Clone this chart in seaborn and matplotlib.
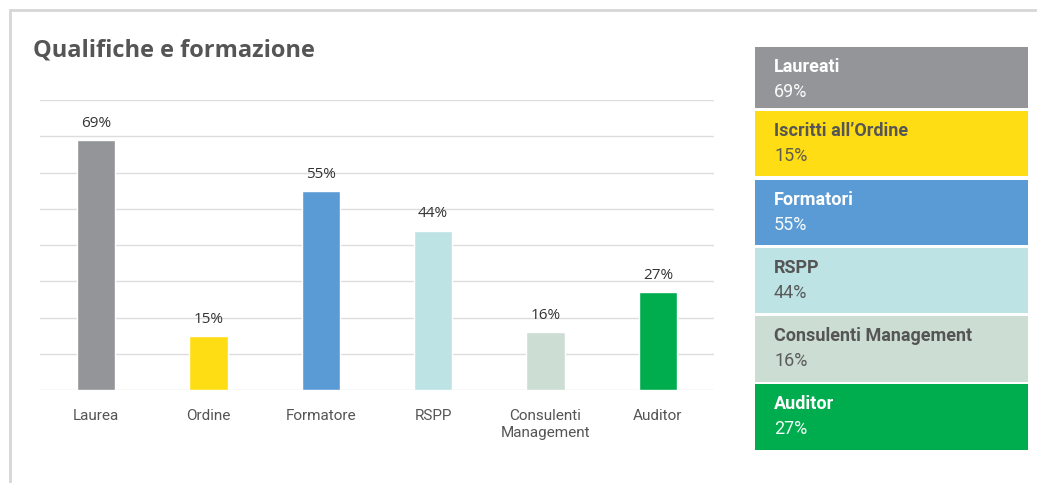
import matplotlib
matplotlib.use("Agg")
import matplotlib.pyplot as plt
import seaborn as sns
import pandas as pd
from matplotlib.patches import Rectangle

# dati
categorie = ["Laurea", "Ordine", "Formatore", "RSPP", "Consulenti\nManagement", "Auditor"]
valori = [69, 15, 55, 44, 16, 27]
legenda_nomi = ["Laureati", "Iscritti all\u2019Ordine", "Formatori", "RSPP",
                "Consulenti Management", "Auditor"]
colori = ["#939598", "#FFDD15", "#5B9BD5", "#BDE3E5", "#CCDDD3", "#00AD4E"]
colori_testo = ["white", "#555555", "white", "#555555", "#555555", "white"]

df = pd.DataFrame({"categoria": categorie, "valore": valori})

W, H = 1037, 483
fig = plt.figure(figsize=(W / 100, H / 100), dpi=100)
sns.set_style("white")

# cornice della card
fig.add_artist(plt.Line2D([10 / W, 1], [1 - 10 / H, 1 - 10 / H], color="#d6d6d6", lw=2))
fig.add_artist(plt.Line2D([10 / W, 10 / W], [0, 1 - 10 / H], color="#d6d6d6", lw=2))

fig.text(33 / W, 1 - 50 / H, "Qualifiche e formazione", fontsize=17, fontweight="bold",
         color="#555555", family=["Open Sans", "DejaVu Sans"], va="center")

ax = fig.add_axes([40 / W, 1 - 390 / H, (714 - 40) / W, 290 / H])
sns.barplot(data=df, x="categoria", y="valore", hue="categoria", palette=colori,
            width=0.34, legend=False, ax=ax, saturation=1)
ax.set_ylim(0, 80)
ax.set_yticks(range(0, 81, 10))
ax.set_yticklabels([])
ax.tick_params(axis="y", length=0)
ax.grid(axis="y", color="#dddddd", lw=1)
ax.set_axisbelow(True)
for s in ax.spines.values():
    s.set_visible(False)
ax.set_xlabel("")
ax.set_ylabel("")
ax.tick_params(axis="x", length=0, pad=14, labelsize=11, labelcolor="#555555")
for lab in ax.get_xticklabels():
    lab.set_family(["Roboto", "DejaVu Sans"])
    lab.set_va("top")
for i, v in enumerate(valori):
    ax.text(i, v + 2.5, f"{v}%", ha="center", va="bottom", fontsize=11,
            color="#333333", family=["Open Sans", "DejaVu Sans"])

# pannelli laterali
righe = [(47, 108), (111, 176), (180, 245), (248, 313), (316, 382), (384, 450)]
for (y0, y1), nome, v, c, tc in zip(righe, legenda_nomi, valori, colori, colori_testo):
    fig.add_artist(Rectangle((755 / W, 1 - y1 / H), (1028 - 755) / W, (y1 - y0) / H,
                             facecolor=c, edgecolor="none", transform=fig.transFigure))
    fig.text(774 / W, 1 - (y0 + 20) / H, nome, fontsize=13, fontweight="bold", color=tc,
             family=["Roboto", "DejaVu Sans"], va="center")
    fig.text(774 / W, 1 - (y0 + 45) / H, f"{v}%", fontsize=13, fontweight="normal", color=tc,
             family=["Roboto", "DejaVu Sans"], va="center", alpha=0.95)

fig.savefig("out.png", dpi=100)
